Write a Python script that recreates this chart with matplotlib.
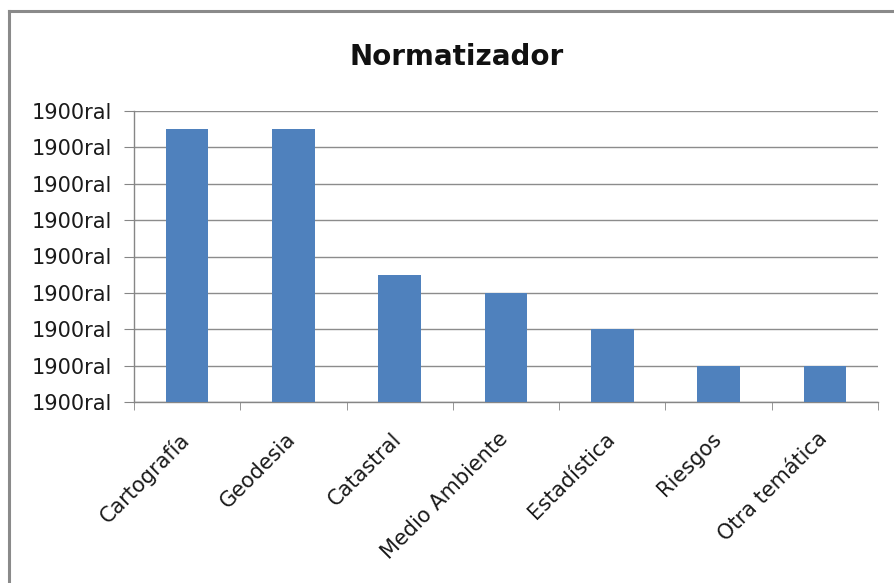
import numpy as np
import matplotlib
matplotlib.use("Agg")
import matplotlib.pyplot as plt
import matplotlib.transforms as mtransforms
from matplotlib.lines import Line2D

categories = ["Cartografía", "Geodesia", "Catastral", "Medio Ambiente",
              "Estadística", "Riesgos", "Otra temática"]
values = [15, 15, 7, 6, 4, 2, 2]
yticks = [0, 2, 4, 6, 8, 10, 12, 14, 16]
ytick_labels = ["1900ral"] * len(yticks)
title = "Normatizador"

plt.rcParams['font.family'] = ['DejaVu Sans']
fig = plt.figure(figsize=(8.94, 5.83), dpi=100)
fig.patch.set_facecolor("white")

# chart frame (only top and left edges are visible in the crop)
fig.add_artist(Line2D([9/894, 9/894], [1-11/583, 0], color="#8a8a8a", lw=2.2))
fig.add_artist(Line2D([9/894, 1], [1-11/583, 1-11/583], color="#8a8a8a", lw=2.2))

ax = fig.add_axes([134/894, 1-402/583, (878-134)/894, (402-111)/583])
x = np.arange(len(categories))
ax.bar(x, values, width=0.4, color="#4F81BD", zorder=3)

ax.set_xlim(-0.5, len(categories)-0.5)
ax.set_ylim(0, 16)
ax.set_yticks(yticks)
ax.set_yticklabels(ytick_labels, fontsize=15, color="#1a1a1a")
ax.yaxis.grid(True, color="#8c8c8c", lw=1.0, zorder=0)
ax.set_axisbelow(True)

ax.set_xticks(x)
ax.set_xticklabels(categories, fontsize=15, color="#1a1a1a",
                   rotation=45, ha="right", rotation_mode="anchor")
ax.tick_params(axis="x", which="major", length=0, pad=12)
ax.set_xticks(np.arange(len(categories)+1) - 0.5, minor=True)
ax.tick_params(axis="x", which="minor", length=6, color="#868686", direction="out")
ax.tick_params(axis="y", length=7, color="#868686", direction="out", pad=9)

# nudge rotated labels down-left like the original
shift = mtransforms.ScaledTranslation(-8/100, -10/100, fig.dpi_scale_trans)
for lab in ax.get_xticklabels():
    lab.set_transform(lab.get_transform() + shift)

for s in ["top", "right"]:
    ax.spines[s].set_visible(False)
for s in ["left", "bottom"]:
    ax.spines[s].set_color("#868686")
    ax.spines[s].set_linewidth(1.0)

fig.text(457/894, 1-57/583, title, fontsize=20, fontweight="bold",
         ha="center", va="center", color="#111111")

fig.savefig("out.png", dpi=100, facecolor="white")
